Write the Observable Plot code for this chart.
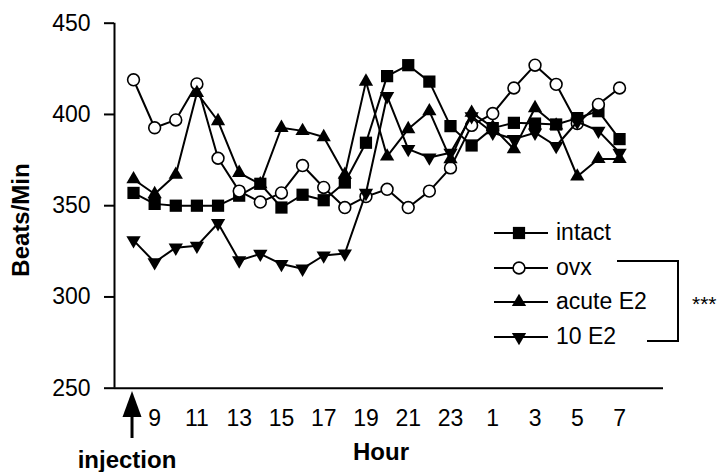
<!DOCTYPE html>
<html><head><meta charset="utf-8">
<script src="https://cdn.jsdelivr.net/npm/d3@7"></script>
<script src="https://cdn.jsdelivr.net/npm/@observablehq/plot@0.6"></script>
<style>
body{margin:0;background:#fff}
#chart{position:relative;width:719px;height:472px}
</style>
</head><body><div id="chart"></div>
<script>
// elapsed clock hours (8 → 31 = 7 next morning)
const hours = [8,9,10,11,12,13,14,15,16,17,18,19,20,21,22,23,24,25,26,27,28,29,30,31];
const tickHours = [9,11,13,15,17,19,21,23,25,27,29,31];
const tickLabels = ["9","11","13","15","17","19","21","23","1","3","5","7"];
const yTicks = [250,300,350,400,450];
const seriesNames = ["intact","ovx","acute E2","10 E2"];
const intact  = [357,351,350,350,350,355.5,362,349,356,353,362.7,384.5,421,427,418,393.6,383,392.5,395.4,395,394.5,398,401.8,386.5];
const ovx     = [419,392.7,397,416.7,376,358,352,357,372,360,349,355,359,349,358,370.7,394,400.5,414.5,427,416.5,395,405.5,414.5];
const acuteE2 = [364.5,356.4,367,411.8,396.4,368,361.8,392.7,391,387.6,367,418,377,392,401.8,375.5,401,393,381,403.5,394,366,375.6,375.6];
const tenE2   = [331,319,327,328,340.4,320,323.6,318,315.5,322.7,323.8,357,410,381,376.4,379,399,390,386.5,390,382.7,396,391,379];
const injectionHour = 8;

const FONT = "'Liberation Sans', Arial, Helvetica, sans-serif";
const s3 = Math.sqrt(3);
const triDown = {draw(ctx, size){
  const y = -Math.sqrt(size / (s3 * 3));
  ctx.moveTo(0, -2 * y); ctx.lineTo(-s3 * y, y); ctx.lineTo(s3 * y, y); ctx.closePath();
}};
const styles = [
  {symbol: "square", r: 6.9, fill: "black", stroke: "black", strokeWidth: 0},
  {symbol: "circle", r: 5.9, fill: "white", stroke: "black", strokeWidth: 1.6},
  {symbol: "triangle", r: 5.3, fill: "black", stroke: "black", strokeWidth: 0},
  {symbol: triDown, r: 5.3, fill: "black", stroke: "black", strokeWidth: 0}
];
const allValues = [intact, ovx, acuteE2, tenE2];
const rows = seriesNames.map((name, k) => allValues[k].map((v, i) => ({series: name, hour: hours[i], bpm: v})));

const xDomain = [7.1, 33.08];
const marks = [
  Plot.ruleY([250], {stroke: "black", strokeWidth: 2}),
  Plot.ruleX([xDomain[0]], {y1: 250, y2: 450, stroke: "black", strokeWidth: 2}),
  Plot.axisY({ticks: yTicks, tickSize: 10, tickPadding: 14, fontSize: 23, label: null, strokeWidth: 2}),
  Plot.axisX({ticks: tickHours, tickFormat: d => tickLabels[tickHours.indexOf(d)], tickSize: 0, tickPadding: 21, fontSize: 23, label: null})
];
rows.forEach((data, k) => {
  marks.push(Plot.line(data, {x: "hour", y: "bpm", stroke: "black", strokeWidth: 2}));
  marks.push(Plot.dot(data, {x: "hour", y: "bpm", ...styles[k]}));
});

const chart = Plot.plot({
  width: 719, height: 472,
  marginLeft: 114, marginRight: 56, marginTop: 22.7, marginBottom: 84.3,
  x: {domain: xDomain},
  y: {domain: [250, 450]},
  style: {fontFamily: FONT, fontSize: "23px", color: "black", background: "white", overflow: "visible"},
  marks
});
document.getElementById("chart").appendChild(chart);

const svg = d3.select(chart);
const sx = chart.scale("x").apply;
// axis titles
svg.append("text").attr("transform", "translate(29,220) rotate(-90)").attr("text-anchor", "middle")
  .attr("font-family", FONT).attr("font-weight", "bold").attr("font-size", 24).attr("fill", "black").text("Beats/Min");
svg.append("text").attr("x", 381).attr("y", 460).attr("text-anchor", "middle")
  .attr("font-family", FONT).attr("font-weight", "bold").attr("font-size", 24).attr("fill", "black").text("Hour");
// injection arrow
const ax = sx(injectionHour) - 1;
svg.append("path").attr("d", `M${ax},391L${ax - 9.5},417L${ax + 9.5},417Z`).attr("fill", "black");
svg.append("line").attr("x1", ax).attr("x2", ax).attr("y1", 414).attr("y2", 438).attr("stroke", "black").attr("stroke-width", 3);
svg.append("text").attr("x", 127).attr("y", 468).attr("text-anchor", "middle")
  .attr("font-family", FONT).attr("font-weight", "bold").attr("font-size", 24).attr("fill", "black").text("injection");

// legend
const legendY = [233, 268, 302, 337];
const lg = svg.append("g").attr("text-anchor", "start");
seriesNames.forEach((name, k) => {
  const y = legendY[k];
  lg.append("line").attr("x1", 494).attr("x2", 548).attr("y1", y).attr("y2", y).attr("stroke", "black").attr("stroke-width", 2);
  const st = styles[k];
  const type = st.symbol === "square" ? d3.symbolSquare : st.symbol === "circle" ? d3.symbolCircle : st.symbol === "triangle" ? d3.symbolTriangle : triDown;
  lg.append("path").attr("transform", `translate(519,${y})`)
    .attr("d", d3.symbol(type, Math.PI * st.r * st.r)())
    .attr("fill", st.fill).attr("stroke", st.stroke).attr("stroke-width", st.strokeWidth);
  lg.append("text").attr("x", 556).attr("y", y + 7).attr("text-anchor", "start").attr("font-family", FONT).attr("font-size", 23).attr("fill", "black").text(name);
});
// significance bracket
lg.append("path").attr("d", "M617,261H678V341H647").attr("fill", "none").attr("stroke", "black").attr("stroke-width", 2);
lg.append("text").attr("x", 692).attr("y", 311).attr("text-anchor", "start").attr("font-family", FONT).attr("font-size", 21).attr("fill", "black").text("***");
</script>
</body></html>
